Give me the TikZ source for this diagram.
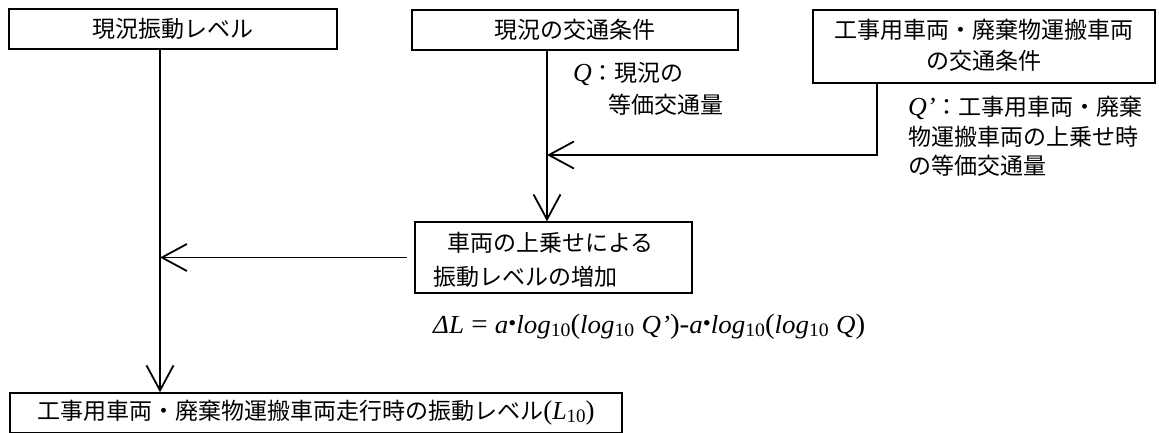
\documentclass[tikz,border=0pt]{standalone}
\usepackage{fontspec}
\setmainfont{Liberation Serif}
\newfontfamily\jp{Noto Sans CJK JP}
\usetikzlibrary{arrows.meta}
\newcommand\vi[1]{{\rmfamily\itshape\fontsize{26pt}{26pt}\selectfont #1}}
\newcommand\tensub{\raisebox{-3pt}{\fontsize{19pt}{19pt}\selectfont 10}}
\newcommand\mdot{\raisebox{3pt}{\fontsize{22pt}{22pt}\selectfont •}}
\begin{document}
\begin{tikzpicture}[x=1pt,y=-1pt,
  every node/.style={font=\jp\fontsize{23pt}{24pt}\selectfont, inner sep=0pt},
  box/.style={draw, line width=1.4pt, rectangle},
  conn/.style={line width=1.8pt},
  arr/.style={conn, -{Straight Barb[length=25pt,width=27pt]}},
  lbl/.style={anchor=west}]
\useasboundingbox (0,0) rectangle (1159,432);
\clip (0,0) rectangle (1159,432);
\fill[white] (0,0) rectangle (1159,432);

% boxes
\node[box, minimum width=328pt, minimum height=40pt] (b1) at (173,29) {現況振動レベル};
\node[box, minimum width=326pt, minimum height=40pt] (b2) at (575,30) {現況の交通条件};
\node[box, minimum width=342pt, minimum height=73pt] (b3) at (984,46.5) {};
\node (t3a) at (984,30) {工事用車両・廃棄物運搬車両};
\node (t3b) at (984,61) {の交通条件};
\node[box, minimum width=277pt, minimum height=71pt] (b4) at (553.5,257.5) {};
\node[lbl] (t4a) at (447,243) {車両の上乗せによる};
\node[lbl] (t4b) at (433,277) {振動レベルの増加};
\node[box, minimum width=612pt, minimum height=40pt] (b5) at (316,413) {工事用車両・廃棄物運搬車両走行時の振動レベル{\rmfamily\fontsize{27pt}{27pt}\selectfont(\vi{L}\tensub)}};

% labels
\node[lbl] (q1) at (573,74) {\vi{Q}：現況の};
\node[lbl] (q2) at (608,105) {等価交通量};
\node[lbl] (p1) at (908,108) {\vi{Q’}：工事用車両・廃棄};
\node[lbl] (p2) at (908,137) {物運搬車両の上乗せ時};
\node[lbl] (p3) at (908,166) {の等価交通量};
\node[lbl, font=\rmfamily\fontsize{28pt}{28pt}\selectfont] (f) at (433,327)
  {\resizebox{432pt}{\height}{\vi{ΔL} = \vi{a}\mdot\vi{log}\tensub(\vi{log}\tensub\ \vi{Q’})-\vi{a}\mdot\vi{log}\tensub(\vi{log}\tensub\ \vi{Q})}};

% connectors
\coordinate (xl) at (160,0);
\coordinate (xm) at (547,0);
\coordinate (xr) at (877,0);
\coordinate (yq) at (0,155);
\draw[arr] (b1.south -| xl) -- (b5.north -| xl);
\draw[arr] (b2.south -| xm) -- (b4.north -| xm);
\draw[arr] (b3.south -| xr) |- (xm |- yq);
\draw[arr, shorten <=7pt] (b4.west) -- (xl |- b4.west);
\end{tikzpicture}
\end{document}
